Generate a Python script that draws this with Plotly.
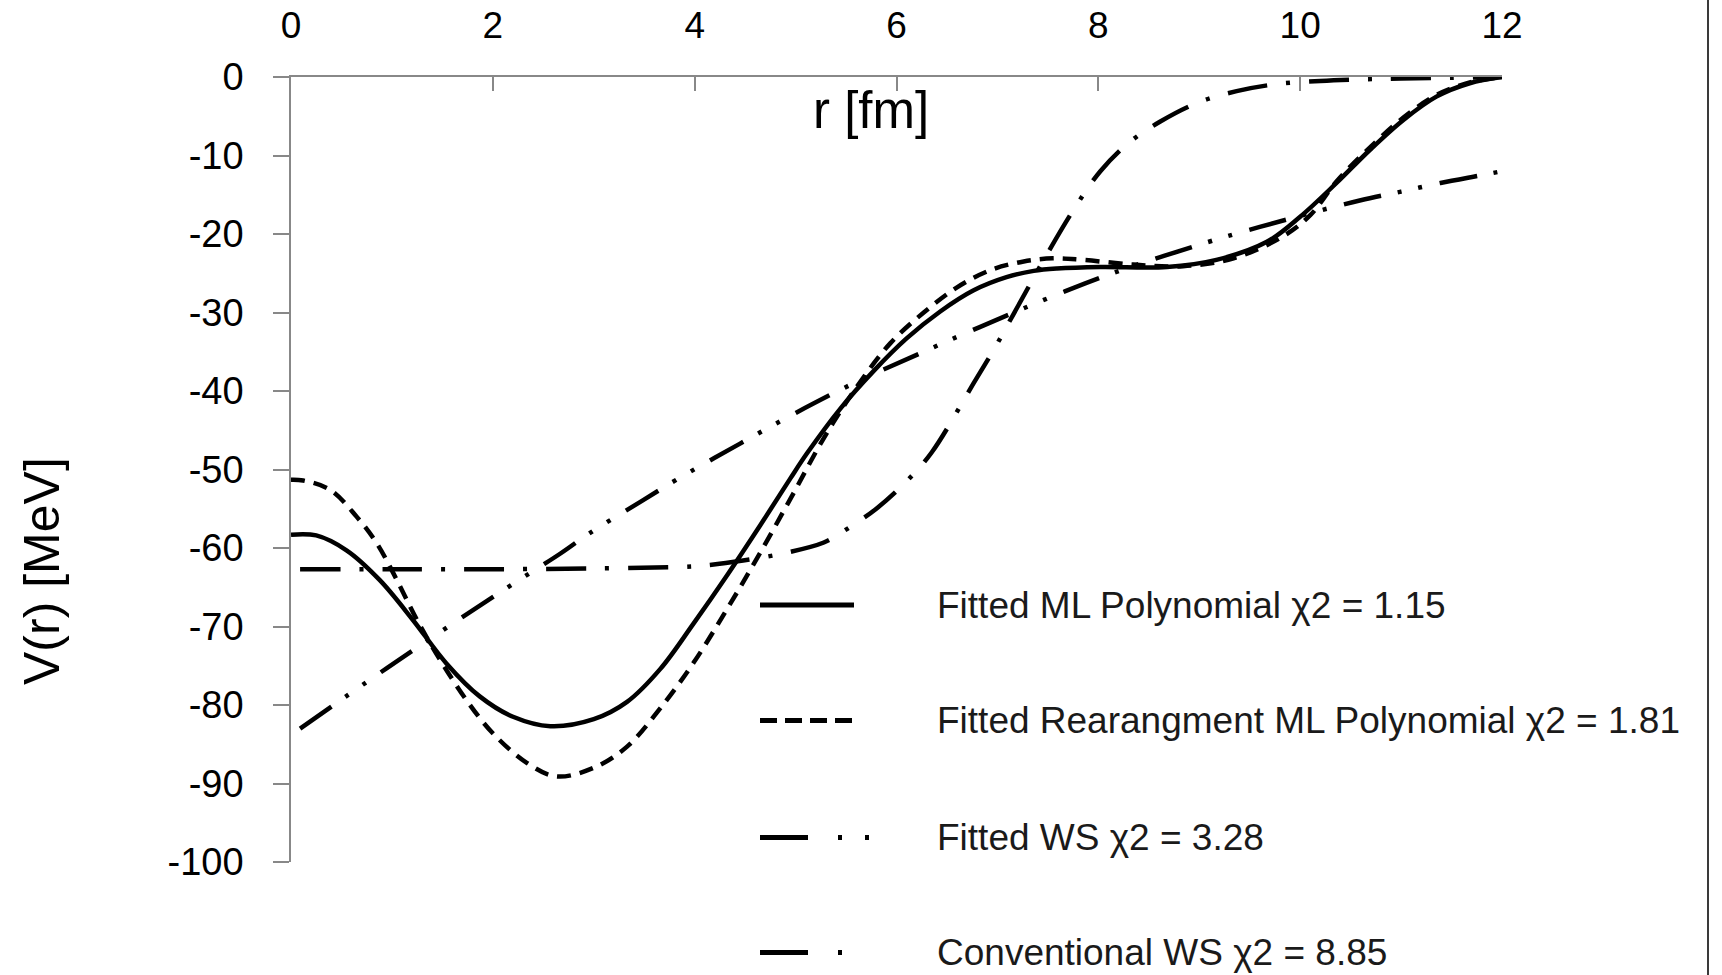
import plotly.graph_objects as go

# ---------------- data ----------------
r_ml = [0, 0.25, 0.55, 0.88, 1.21, 1.54, 1.87, 2.20, 2.57, 3.0, 3.33, 3.66, 3.99, 4.32,
        4.65, 4.95, 5.11, 5.44, 5.77, 6.10, 6.43, 6.76, 7.09, 7.36, 7.59, 8.02, 8.68,
        9.17, 9.67, 10.0, 10.36, 10.69, 11.02, 11.35, 11.68, 12.0]
v_ml = [-58.3, -58.4, -60.3, -64.1, -69.2, -74.7, -78.9, -81.5, -82.7, -81.8, -79.6,
        -75.4, -69.6, -63.5, -57.1, -51.1, -48.0, -42.3, -37.5, -33.3, -29.9, -27.2,
        -25.5, -24.7, -24.4, -24.2, -24.2, -23.3, -21.0, -17.8, -13.5, -9.3, -5.5,
        -2.5, -0.8, 0.0]

r_rearr = [0, 0.12, 0.39, 0.65, 0.85, 1.05, 1.25, 1.48, 1.74, 2.0, 2.34, 2.63, 3.0,
           3.33, 3.66, 3.99, 4.32, 4.65, 4.98, 5.28, 5.61, 5.94, 6.27, 6.60, 6.93,
           7.26, 7.55, 7.85, 8.35, 8.84, 9.34, 9.83, 10.1, 10.36, 10.69, 11.02, 11.35,
           11.68, 12.0]
v_rearr = [-51.3, -51.4, -52.6, -56.0, -59.4, -64.1, -69.2, -74.3, -79.4, -83.6, -87.4,
           -89.1, -88.0, -85.3, -80.4, -74.6, -67.8, -60.6, -53.0, -46.0, -39.4, -33.9,
           -30.0, -26.8, -24.6, -23.5, -23.1, -23.3, -23.9, -24.1, -23.1, -20.3, -17.6,
           -13.3, -9.0, -5.2, -2.3, -0.7, 0.0]

r_ws = [0.09, 0.95, 2.10, 2.67, 2.96, 3.49, 3.82, 4.45, 5.0, 5.61, 6.20, 6.53, 7.09,
        7.46, 7.87, 8.25, 8.65, 9.22, 9.60, 10.2, 10.6, 11.0, 11.39, 11.8, 12.0]
v_ws = [-83.0, -75.3, -65.4, -60.7, -58.1, -53.9, -51.3, -46.7, -42.8, -38.8, -35.4,
        -33.5, -30.4, -28.4, -26.3, -24.5, -22.8, -20.5, -19.1, -17.0, -15.7, -14.6,
        -13.5, -12.5, -12.0]

r_conv = [0.09, 1.0, 2.0, 3.0, 3.88, 4.12, 4.48, 4.91, 5.28, 5.47, 5.80, 6.10, 6.35,
          6.76, 6.97, 7.16, 7.49, 7.77, 8.02, 8.30, 8.61, 8.98, 9.37, 9.77, 10.2, 10.6,
          11.0, 11.5, 12.0]
v_conv = [-62.7, -62.7, -62.7, -62.6, -62.4, -62.2, -61.6, -60.6, -59.3, -57.9, -55.0,
          -51.5, -47.8, -39.1, -34.6, -30.2, -22.6, -16.6, -12.0, -8.4, -5.7, -3.3,
          -1.8, -0.9, -0.5, -0.3, -0.2, -0.1, 0.0]

series_names = ["Fitted ML Polynomial \u03c72 = 1.15",
                "Fitted Rearangment ML Polynomial \u03c72 = 1.81",
                "Fitted WS \u03c72 = 3.28",
                "Conventional WS \u03c72 = 8.85"]

x_ticks = [0, 2, 4, 6, 8, 10, 12]
y_ticks = [0, -10, -20, -30, -40, -50, -60, -70, -80, -90, -100]
y_ticktext = ["0", "-10", "-20", "-30", "-40", "-50", "-60", "-70", "-80", "-90", "-100"]

# ---------------- styling ----------------
FONT = "Liberation Sans, Arial, sans-serif"
W, H = 1722, 975
L, R, T, B = 291, 220, 77, 113
PW, PH = W - L - R, H - T - B

def px_x(px):
    return (px - L) / PW

def px_y(py):
    return (H - B - py) / PH

LW = 4.5
dashes = ["solid", "14px,9px", "38px,17px,4px,17px,4px,18px", "40px,19px,4px,19px"]
legend_dash = ["solid", "17px,8px", "48px,30px,4px,23px,4px,200px", "48px,30px,4px,200px"]

fig = go.Figure()
data = [(r_ml, v_ml), (r_rearr, v_rearr), (r_ws, v_ws), (r_conv, v_conv)]
for (xs, ys), name, d in zip(data, series_names, dashes):
    fig.add_trace(go.Scatter(x=xs, y=ys, mode="lines", name=name, showlegend=False,
                             line=dict(color="black", width=LW, dash=d,
                                       shape="spline", smoothing=1.0)))

# manual legend
leg_rows = [605, 720.5, 837.5, 952.5]
leg_x1 = [854, 854, 870, 845]
shapes = []
annotations = []
for i, (yy, name) in enumerate(zip(leg_rows, series_names)):
    shapes.append(dict(type="line", xref="paper", yref="paper",
                       x0=px_x(760), x1=px_x(leg_x1[i]), y0=px_y(yy), y1=px_y(yy),
                       line=dict(color="black", width=5, dash=legend_dash[i])))
    annotations.append(dict(text=name, xref="paper", yref="paper",
                            x=px_x(935), y=px_y(yy), xanchor="left", yanchor="middle",
                            showarrow=False, font=dict(family=FONT, size=37, color="#1a1a1a")))

# right border of the chart frame
shapes.append(dict(type="line", xref="paper", yref="paper",
                   x0=px_x(1708), x1=px_x(1708), y0=px_y(0), y1=px_y(975),
                   line=dict(color="#3a3a3a", width=2)))

# axis titles
annotations.append(dict(text="r [fm]", xref="paper", yref="paper", x=px_x(871), y=px_y(110),
                        xanchor="center", yanchor="middle", showarrow=False,
                        font=dict(family=FONT, size=51, color="black")))
annotations.append(dict(text="V(r) [MeV]", xref="paper", yref="paper", x=px_x(42), y=px_y(571),
                        xanchor="center", yanchor="middle", showarrow=False, textangle=-90,
                        font=dict(family=FONT, size=50, color="black")))

fig.update_layout(
    width=W, height=H,
    margin=dict(l=L, r=R, t=T, b=B, pad=0),
    paper_bgcolor="white", plot_bgcolor="white",
    template="none",
    shapes=shapes, annotations=annotations,
    showlegend=False,
    xaxis=dict(range=[0, 12], side="top", tickvals=x_ticks, ticktext=[str(v) for v in x_ticks],
               ticks="inside", ticklen=14, tickwidth=1.5, tickcolor="#888888",
               showline=True, linecolor="#888888", linewidth=1.5, showgrid=False,
               zeroline=False, automargin=False, ticklabelstandoff=22,
               tickfont=dict(family=FONT, size=37, color="black")),
    yaxis=dict(range=[-100, 0], tickvals=y_ticks, ticktext=y_ticktext,
               ticks="outside", ticklen=16, tickwidth=1.5, tickcolor="#888888",
               showline=True, linecolor="#888888", linewidth=1.5, showgrid=False,
               zeroline=False, automargin=False, ticklabelstandoff=22,
               tickfont=dict(family=FONT, size=38, color="black")),
)

fig.write_html("out.html")
